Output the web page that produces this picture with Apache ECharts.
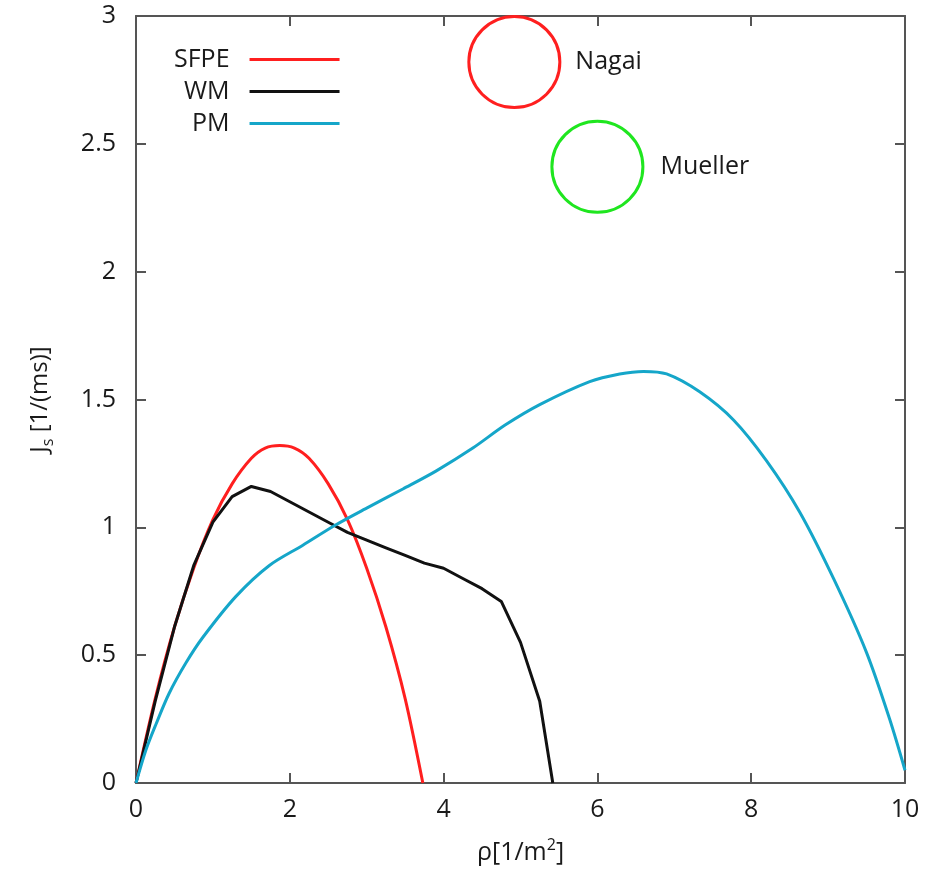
<!DOCTYPE html>
<html>
<head>
<meta charset="utf-8">
<script src="https://cdn.jsdelivr.net/npm/echarts@6/dist/echarts.min.js"></script>
<style>
  html, body { margin: 0; padding: 0; background: #fff; }
  #chart { width: 932px; height: 874px; }
</style>
</head>
<body>
<div id="chart"></div>
<script>
// density (1/m^2) and flow values
const sfpeX = [0, 0.25, 0.5, 0.75, 1, 1.25, 1.5, 1.68, 1.87, 2.06, 2.25, 2.5, 2.75, 3, 3.25, 3.5, 3.73]
const sfpeY = [0, 0.33, 0.61, 0.84, 1.03, 1.17, 1.27, 1.31, 1.32, 1.31, 1.27, 1.17, 1.03, 0.84, 0.61, 0.33, 0]

const wmX = [0, 0.25, 0.5, 0.75, 1, 1.25, 1.5, 1.75, 2, 2.25, 2.5, 2.75, 3, 3.25, 3.5, 3.75, 4, 4.25, 4.5, 4.75, 5, 5.25, 5.42]
const wmY = [0, 0.32, 0.61, 0.85, 1.02, 1.12, 1.16, 1.14, 1.10, 1.06, 1.02, 0.98, 0.95, 0.92, 0.89, 0.86, 0.84, 0.80, 0.76, 0.71, 0.55, 0.32, 0]

const pmX = [0, 0.13, 0.26, 0.43, 0.65, 0.87, 1.3, 1.73, 2.17, 2.6, 3.03, 3.47, 3.9, 4.38, 4.8, 5.25, 5.9, 6.29, 6.6, 6.9, 7.33, 7.77, 8.2, 8.63, 9.07, 9.5, 9.8, 10]
const pmY = [0, 0.13, 0.23, 0.35, 0.47, 0.57, 0.73, 0.85, 0.93, 1.01, 1.08, 1.15, 1.22, 1.31, 1.40, 1.48, 1.57, 1.60, 1.61, 1.60, 1.53, 1.42, 1.26, 1.06, 0.80, 0.51, 0.25, 0.05]

// measured points (circles)
const nagai = [4.92, 2.82]
const mueller = [6.0, 2.41]

const xTicks = { min: 0, max: 10, interval: 2 }
const yTicks = { min: 0, max: 3, interval: 0.5 }

const pairs = (xs, ys) => xs.map((x, i) => [x, ys[i]])

const FONT = '"Open Sans", "Noto Sans", sans-serif'
const AXIS_COLOR = '#555'
const TEXT_COLOR = '#1a1a1a'

const myChart = echarts.init(document.getElementById('chart'))

const baseX = {
    type: 'value',
    min: xTicks.min,
    max: xTicks.max,
    interval: xTicks.interval,
    axisLine: { show: true, onZero: false, lineStyle: { color: AXIS_COLOR, width: 2 } },
    axisTick: { show: true, inside: true, length: 10, lineStyle: { color: AXIS_COLOR, width: 2 } },
    splitLine: { show: false }
}
const baseY = {
    type: 'value',
    min: yTicks.min,
    max: yTicks.max,
    interval: yTicks.interval,
    axisLine: { show: true, onZero: false, lineStyle: { color: AXIS_COLOR, width: 2 } },
    axisTick: { show: true, inside: true, length: 10, lineStyle: { color: AXIS_COLOR, width: 2 } },
    splitLine: { show: false }
}

const option = {
    animation: false,
    backgroundColor: '#fff',
    grid: {
        left: 136,
        right: 27,
        top: 16,
        bottom: 91
    },
    legend: {
        orient: 'vertical',
        align: 'right',
        left: 169,
        top: 41,
        itemWidth: 90,
        itemHeight: 3,
        itemGap: 5,
        icon: 'rect',
        textStyle: {
            fontFamily: FONT,
            fontSize: 25,
            color: TEXT_COLOR,
            lineHeight: 27,
            padding: [0, 15, 0, 0]
        },
        data: ['SFPE', 'WM', 'PM']
    },
    xAxis: [
        Object.assign({}, baseX, {
            position: 'bottom',
            name: '{t|ρ[1/m}{sup|2}{t|]}',
            nameLocation: 'middle',
            nameGap: 54,
            nameTextStyle: {
                rich: {
                    t: { fontFamily: FONT, fontSize: 25, color: TEXT_COLOR, lineHeight: 32, verticalAlign: 'middle' },
                    sup: { fontFamily: FONT, fontSize: 16, color: TEXT_COLOR, lineHeight: 32, verticalAlign: 'top' }
                }
            },
            axisLabel: { margin: 14, fontFamily: FONT, fontSize: 25, color: TEXT_COLOR }
        }),
        Object.assign({}, baseX, {
            position: 'top',
            axisLabel: { show: false }
        })
    ],
    yAxis: [
        Object.assign({}, baseY, {
            position: 'left',
            name: '{t|J}{sub|s}{t| [1/(ms)]}',
            nameLocation: 'middle',
            nameGap: 80,
            nameRotate: 90,
            nameTextStyle: {
                rich: {
                    t: { fontFamily: FONT, fontSize: 24, color: TEXT_COLOR, lineHeight: 32, verticalAlign: 'middle' },
                    sub: { fontFamily: FONT, fontSize: 16, color: TEXT_COLOR, lineHeight: 32, verticalAlign: 'bottom' }
                }
            },
            axisLabel: {
                margin: 20,
                fontFamily: FONT,
                fontSize: 25,
                color: TEXT_COLOR
            }
        }),
        Object.assign({}, baseY, {
            position: 'right',
            axisLabel: { show: false }
        })
    ],
    series: [
        {
            name: 'SFPE',
            type: 'line',
            data: pairs(sfpeX, sfpeY),
            smooth: 0.3,
            showSymbol: false,
            color: '#ff1f1f',
            lineStyle: { width: 3, color: '#ff1f1f' }
        },
        {
            name: 'WM',
            type: 'line',
            data: pairs(wmX, wmY),
            showSymbol: false,
            color: '#111',
            lineStyle: { width: 3, color: '#111' }
        },
        {
            name: 'PM',
            type: 'line',
            data: pairs(pmX, pmY),
            smooth: 0.3,
            showSymbol: false,
            color: '#15a6c9',
            lineStyle: { width: 3, color: '#15a6c9' }
        },
        {
            name: 'Nagai',
            type: 'scatter',
            data: [nagai],
            symbol: 'circle',
            symbolSize: 91,
            clip: false,
            itemStyle: { color: 'rgba(0,0,0,0)', borderColor: '#ff1f1f', borderWidth: 3, opacity: 1 },
            label: {
                show: true,
                position: 'right',
                distance: 14,
                formatter: 'Nagai',
                fontFamily: FONT,
                fontSize: 25,
                color: TEXT_COLOR
            }
        },
        {
            name: 'Mueller',
            type: 'scatter',
            data: [mueller],
            symbol: 'circle',
            symbolSize: 91,
            clip: false,
            itemStyle: { color: 'rgba(0,0,0,0)', borderColor: '#1fe61f', borderWidth: 3, opacity: 1 },
            label: {
                show: true,
                position: 'right',
                distance: 16,
                formatter: 'Mueller',
                fontFamily: FONT,
                fontSize: 25,
                color: TEXT_COLOR
            }
        }
    ]
}

myChart.setOption(option)
window.addEventListener('resize', () => {
    myChart.resize()
})
</script>
</body>
</html>
